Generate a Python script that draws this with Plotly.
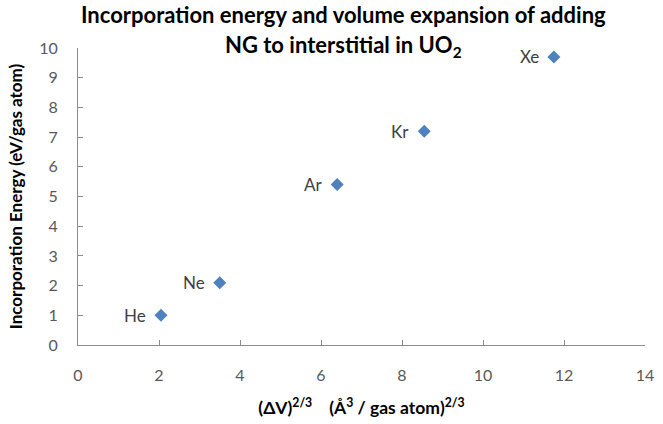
import plotly.graph_objects as go

# Noble gases in UO2 interstitial sites
gases = ["He", "Ne", "Ar", "Kr", "Xe"]
volume_expansion = [2.05, 3.5, 6.4, 8.55, 11.75]   # (ΔV)^(2/3), (Å^3/gas atom)^(2/3)
incorporation_energy = [1.0, 2.1, 5.4, 7.2, 9.7]    # eV/gas atom

x_ticks = [0, 2, 4, 6, 8, 10, 12, 14]
y_ticks = [0, 1, 2, 3, 4, 5, 6, 7, 8, 9, 10]

title_lines = [
    "<b>Incorporation energy and volume expansion of adding</b>",
    "<b>NG to interstitial in UO<sub>2</sub></b>",
]

FONT = "Lato"
AXIS_GREY = "#8c8c8c"
TICK_GREY = "#595959"
LABEL_GREY = "#404040"

fig = go.Figure(
    go.Scatter(
        x=volume_expansion,
        y=incorporation_energy,
        mode="markers",
        marker=dict(symbol="diamond", size=10, color="#4F81BD"),
        cliponaxis=False,
        showlegend=False,
    )
)

# point labels sit to the left of each marker
for name, xv, yv in zip(gases, volume_expansion, incorporation_energy):
    fig.add_annotation(
        x=xv, y=yv, text=name, showarrow=False,
        xanchor="right", yanchor="middle", xshift=-13,
        font=dict(family=FONT, size=17, color=LABEL_GREY),
    )

# two-line chart title
for line, ypos in zip(title_lines, [1.112, 1.008]):
    fig.add_annotation(
        x=0.469, y=ypos, xref="paper", yref="paper",
        text=line, showarrow=False,
        xanchor="center", yanchor="middle",
        font=dict(family=FONT, size=22, color="#000000"),
    )

axis_common = dict(
    showgrid=False,
    zeroline=False,
    showline=True,
    linecolor=AXIS_GREY,
    linewidth=1,
    ticks="inside",
    ticklen=5,
    tickcolor=AXIS_GREY,
    tickfont=dict(family=FONT, size=16, color=TICK_GREY),
    ticklabeloverflow="allow",
)

fig.update_layout(
    width=663,
    height=424,
    margin=dict(l=78, r=9, t=48, b=79),
    paper_bgcolor="white",
    plot_bgcolor="white",
    xaxis=dict(
        **axis_common,
        range=[0, 14],
        tickvals=x_ticks,
        ticklabelstandoff=16,
        title=dict(
            text="<b>(ΔV)<sup>2/3</sup>    (Å<sup>3</sup> / gas atom)<sup>2/3</sup></b>",
            font=dict(family=FONT, size=17.5, color="#000000"),
            standoff=18,
        ),
    ),
    yaxis=dict(
        **axis_common,
        range=[0, 10],
        tickvals=y_ticks,
        ticklabelstandoff=16,
        title=dict(
            text="<b>Incorporation Energy (eV/gas atom)</b>",
            font=dict(family=FONT, size=17, color="#000000"),
            standoff=12,
        ),
    ),
)

fig.write_html("out.html")
